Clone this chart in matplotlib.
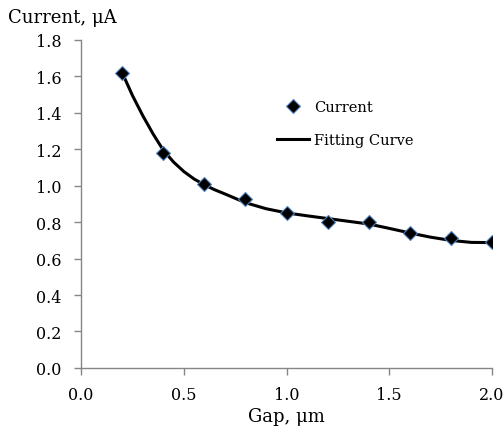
import numpy as np
import matplotlib
matplotlib.use("Agg")
import matplotlib.pyplot as plt

# Measured current vs gap
gap = [0.2, 0.4, 0.6, 0.8, 1.0, 1.2, 1.4, 1.6, 1.8, 2.0]
current = [1.62, 1.18, 1.01, 0.925, 0.852, 0.80, 0.80, 0.74, 0.713, 0.69]

# Fitting curve
fit_gap = [0.2, 0.25, 0.3, 0.35, 0.4, 0.45, 0.5, 0.55, 0.6, 0.65, 0.7, 0.8,
           0.9, 1.0, 1.1, 1.2, 1.3, 1.4, 1.5, 1.6, 1.7, 1.8, 1.9, 2.0]
fit_current = [1.62, 1.495, 1.385, 1.285, 1.195, 1.13, 1.078, 1.037, 1.005,
               0.978, 0.955, 0.907, 0.874, 0.851, 0.835, 0.82, 0.805, 0.79,
               0.766, 0.741, 0.718, 0.70, 0.689, 0.688]

x_ticks = [0.0, 0.5, 1.0, 1.5, 2.0]
y_ticks = [0.0, 0.2, 0.4, 0.6, 0.8, 1.0, 1.2, 1.4, 1.6, 1.8]

plt.rcParams['font.family'] = ['DejaVu Serif']

fig = plt.figure(figsize=(5.04, 4.27), dpi=100)
ax = fig.add_axes([0.161, 0.136, 0.815, 0.768])

ax.plot(gap, current, linestyle='none', marker='D', markersize=7.5,
        markerfacecolor='black', markeredgecolor='#4f81bd', markeredgewidth=0.8,
        label='Current', zorder=3)
ax.plot(fit_gap, fit_current, color='black', linewidth=2.2, label='Fitting Curve',
        zorder=2)

ax.set_xlim(0, 2.0)
ax.set_ylim(0, 1.8)
ax.set_xticks(x_ticks)
ax.set_yticks(y_ticks)
ax.set_xticklabels(['%.1f' % t for t in x_ticks])
ax.set_yticklabels(['%.1f' % t for t in y_ticks])

for s in ['top', 'right']:
    ax.spines[s].set_visible(False)
for s in ['left', 'bottom']:
    ax.spines[s].set_color('#868686')
    ax.spines[s].set_linewidth(1.0)
ax.tick_params(direction='out', length=5, width=1, color='#868686',
               labelsize=11.5, labelcolor='black')
ax.tick_params(axis='y', pad=9)
ax.tick_params(axis='x', pad=8)

ax.set_xlabel('Gap, \u03bcm', fontsize=13, labelpad=3)
fig.text(0.016, 0.957, 'Current, \u03bcA', fontsize=13, ha='left', va='center')

ax.legend(loc='upper left', bbox_to_anchor=(0.46, 0.84), frameon=False,
          fontsize=10.5, handlelength=2.2, handletextpad=0.3, labelspacing=1.35,
          borderpad=0)

fig.savefig('out.png', dpi=100)
